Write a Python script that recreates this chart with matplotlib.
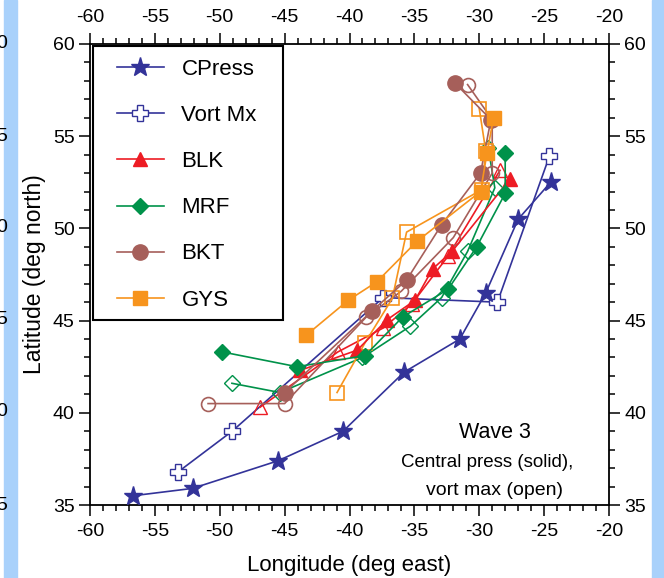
import matplotlib
matplotlib.use("Agg")
import matplotlib.pyplot as plt
from matplotlib.patches import Rectangle

plt.rcParams['font.family'] = ['Liberation Sans', 'DejaVu Sans']
plt.rcParams['axes.unicode_minus'] = False

# track positions (lon, lat)
cpress_lon = [-56.7, -52.1, -45.5, -40.5, -35.8, -31.5, -29.5, -27.0, -24.5]
cpress_lat = [35.5, 35.9, 37.4, 39.0, 42.2, 44.0, 46.5, 50.5, 52.5]

vort_lon = [-53.2, -49.05, -37.4, -28.6, -24.6]
vort_lat = [36.8, 39.0, 46.25, 46.0, 53.9]

blk_lon = [-43.8, -39.4, -37.1, -34.95, -33.6, -32.1, -27.6]
blk_lat = [42.3, 43.4, 45.05, 46.1, 47.8, 48.75, 52.7]
blk_open_lon = [-46.9, -40.9, -37.4, -35.2, -32.4, -28.4]
blk_open_lat = [40.3, 43.3, 44.6, 45.9, 48.5, 53.15]

mrf_lon = [-49.8, -44.05, -38.8, -35.9, -32.4, -30.2, -28.0, -28.0]
mrf_lat = [43.3, 42.5, 43.1, 45.2, 46.7, 49.0, 51.9, 54.1]
mrf_open_lon = [-49.06, -45.36, -39.0, -35.3, -32.9, -30.9, -28.8, -29.3]
mrf_open_lat = [41.6, 41.1, 43.0, 44.7, 46.25, 48.75, 52.2, 54.35]

bkt_lon = [-45.0, -38.3, -35.6, -32.9, -29.9, -29.1, -31.9]
bkt_lat = [41.1, 45.5, 47.2, 50.2, 53.0, 55.9, 57.9]
bkt_open_lon = [-50.9, -45.0, -38.7, -36.0, -32.0, -29.0, -29.0, -30.9]
bkt_open_lat = [40.5, 40.5, 45.2, 46.6, 49.5, 53.0, 55.9, 57.8]

gys_lon = [-43.35, -40.1, -37.9, -34.8, -29.9, -29.4, -28.9]
gys_lat = [44.2, 46.1, 47.1, 49.3, 52.0, 54.1, 56.0]
gys_open_lon = [-40.96, -38.8, -36.7, -35.6, -29.8, -29.5, -30.0]
gys_open_lat = [41.1, 43.8, 46.2, 49.8, 52.1, 54.2, 56.5]

navy = "#333399"
red = "#ed1c24"
green = "#00924a"
brown = "#a65f5a"
orange = "#f7941d"

fig = plt.figure(figsize=(6.64, 5.78), dpi=100)

# light blue strips at the page edges (neighbouring panels, cut off)
fig.patches.append(Rectangle((4 / 664, 0), 13 / 664, 1, transform=fig.transFigure,
                             color="#a9d1fb", zorder=0))
fig.patches.append(Rectangle((652 / 664, 0), 12 / 664, 1, transform=fig.transFigure,
                             color="#a9d1fb", zorder=0))
for lab, yp in zip(["0", "5", "0", "5", "0", "5"], [44, 136, 228, 320, 412, 505]):
    fig.text(-4 / 664, 1 - yp / 578, lab, fontsize=14, ha="left", va="center")

ax = fig.add_axes([90 / 664, 1 - 505 / 578, 519 / 664, 461 / 578])

lw = 1.2
ms = 10
# open (vorticity max) tracks
ax.plot(vort_lon, vort_lat, color=navy, lw=lw, marker="P", ms=ms + 1, mfc="white",
        mec=navy, mew=1.0, label="Vort Mx", zorder=3)
ax.plot(blk_open_lon, blk_open_lat, color=red, lw=lw, marker="^", ms=ms, mfc="none",
        mec=red, mew=1.0, zorder=3)
ax.plot(mrf_open_lon, mrf_open_lat, color=green, lw=lw, marker="D", ms=ms - 2, mfc="none",
        mec=green, mew=1.0, zorder=3)
ax.plot(bkt_open_lon, bkt_open_lat, color=brown, lw=lw, marker="o", ms=ms, mfc="none",
        mec=brown, mew=1.2, zorder=3)
ax.plot(gys_open_lon, gys_open_lat, color=orange, lw=lw, marker="s", ms=ms, mfc="none",
        mec=orange, mew=1.2, zorder=3)

# solid (central pressure) tracks
ax.plot(cpress_lon, cpress_lat, color=navy, lw=lw, marker="*", ms=ms + 4, label="CPress", zorder=4)
ax.plot(blk_lon, blk_lat, color=red, lw=lw, marker="^", ms=ms, label="BLK", zorder=4)
ax.plot(mrf_lon, mrf_lat, color=green, lw=lw, marker="D", ms=ms - 2, label="MRF", zorder=4)
ax.plot(bkt_lon, bkt_lat, color=brown, lw=lw, marker="o", ms=ms + 1, label="BKT", zorder=4)
ax.plot(gys_lon, gys_lat, color=orange, lw=lw, marker="s", ms=ms, label="GYS", zorder=4)

ax.set_xlim(-60, -20)
ax.set_ylim(35, 60)
ax.set_xticks(range(-60, -19, 5))
ax.set_yticks(range(35, 61, 5))
ax.set_xticks(range(-60, -19, 1), minor=True)
ax.set_yticks(range(35, 61, 1), minor=True)
ax.tick_params(which="both", direction="out", top=True, right=True,
               labeltop=True, labelright=True, labelsize=14, width=1.1, pad=3)
ax.tick_params(which="major", length=8)
ax.tick_params(which="minor", length=4)
ax.tick_params(axis="x", which="major", pad=5)
for s in ax.spines.values():
    s.set_linewidth(1.3)

ax.set_xlabel("Longitude (deg east)", fontsize=16, labelpad=11)
ax.set_ylabel("Latitude (deg north)", fontsize=16.5, labelpad=5)

# legend: frame drawn as its own box so the side padding can be wider than top/bottom
handles, labels = ax.get_legend_handles_labels()
order = ["CPress", "Vort Mx", "BLK", "MRF", "BKT", "GYS"]
hl = {l: h for h, l in zip(handles, labels)}
leg = ax.legend([hl[k] for k in order], order, loc="upper left",
                bbox_to_anchor=((117 - 90) / 519, (505 - 59) / 461),
                fontsize=16, frameon=False, handlelength=2.1, handletextpad=0.8,
                labelspacing=1.13, borderpad=0.0, borderaxespad=0.0)
ax.add_patch(Rectangle((3 / 519, (505 - 320) / 461), 190 / 519, 274 / 461,
                       transform=ax.transAxes, fill=False, ec="black", lw=1.5, zorder=5))

ax.text(-28.8, 38.95, "Wave 3", fontsize=15.5, ha="center", va="center")
ax.text(-29.4, 37.3, "Central press (solid),", fontsize=13.5, ha="center", va="center")
ax.text(-28.8, 35.8, "vort max (open)", fontsize=14, ha="center", va="center")

fig.savefig("out.png", dpi=100)
